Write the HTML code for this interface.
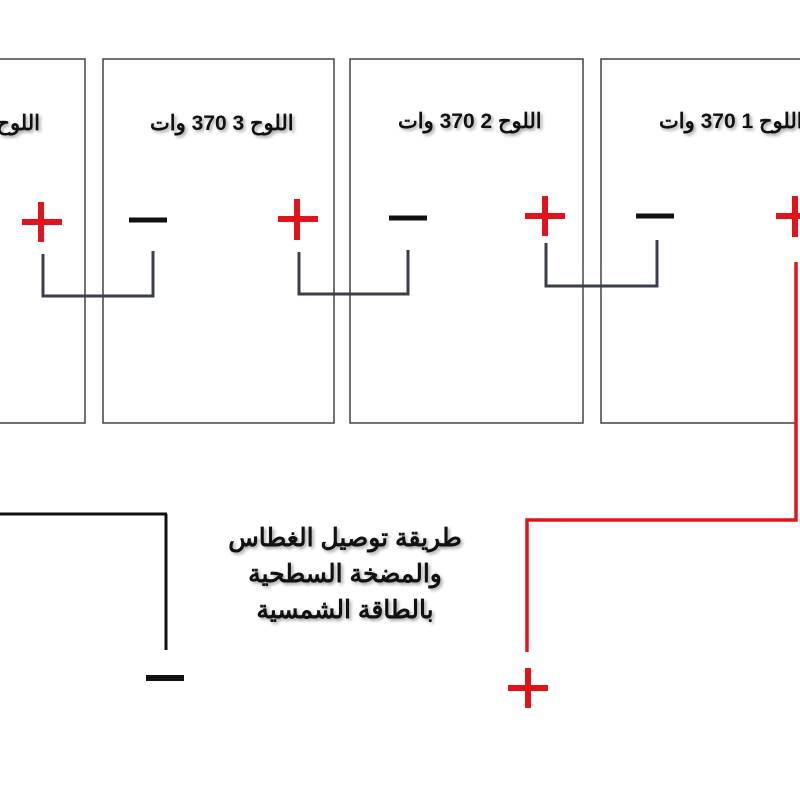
<!DOCTYPE html>
<html><head><meta charset="utf-8"><style>
body{margin:0;width:800px;height:800px;background:#fff;overflow:hidden;position:relative;font-family:"Liberation Sans","Noto Sans CJK SC",sans-serif}
.t{position:absolute;font-weight:bold;color:#111;text-shadow:2px 2px 3px rgba(0,0,0,.35);white-space:nowrap;direction:rtl}
</style></head><body>
<svg width="800" height="800" style="position:absolute;left:0;top:0">
<g fill="none" stroke="#444" stroke-width="1.5">
<path d="M-5 59H85V423H-5"/>
<rect x="103" y="59" width="231" height="364"/>
<rect x="350" y="59" width="233" height="364"/>
<path d="M805 59H601V423H797"/>
</g>
<g fill="none" stroke="#3a3f4a" stroke-width="3">
<path d="M43 254V296H153V251"/>
<path d="M299 252V294H408V250"/>
<path d="M546 243V286H657V240"/>
</g>
<g stroke="#e0141b" stroke-width="6" fill="none">
<path d="M22 222H62M41 202V242"/>
<path d="M278 219H318M297 199V240"/>
<path d="M525 216H565M545 196V236"/>
<path d="M776 216H806M795 196V237"/>
<path d="M508 688H548M528 668V708"/>
</g>
<path d="M796 262V520H527V652" fill="none" stroke="#e0141b" stroke-width="3.5"/>
<g stroke="#111" stroke-width="5">
<path d="M129 220H167"/><path d="M389 218H427"/><path d="M636 216H674"/>
<path d="M146 678H184" stroke-width="6"/>
</g>
<path d="M0 514H167M166 514V650" fill="none" stroke="#111" stroke-width="3"/>
</svg>
<div class="t" style="right:760px;top:111px;font-size:21px">اللوح</div>
<div class="t" style="left:150px;top:111px;font-size:21px">اللوح 3 370 وات</div>
<div class="t" style="left:398px;top:109px;font-size:21px">اللوح 2 370 وات</div>
<div class="t" style="left:659px;top:109px;font-size:21px">اللوح 1 370 وات</div>
<div class="t" style="left:200px;width:290px;top:520px;font-size:25px;line-height:36px;text-align:center;white-space:normal">طريقة توصيل الغطاس<br>والمضخة السطحية<br>بالطاقة الشمسية</div>
</body></html>
